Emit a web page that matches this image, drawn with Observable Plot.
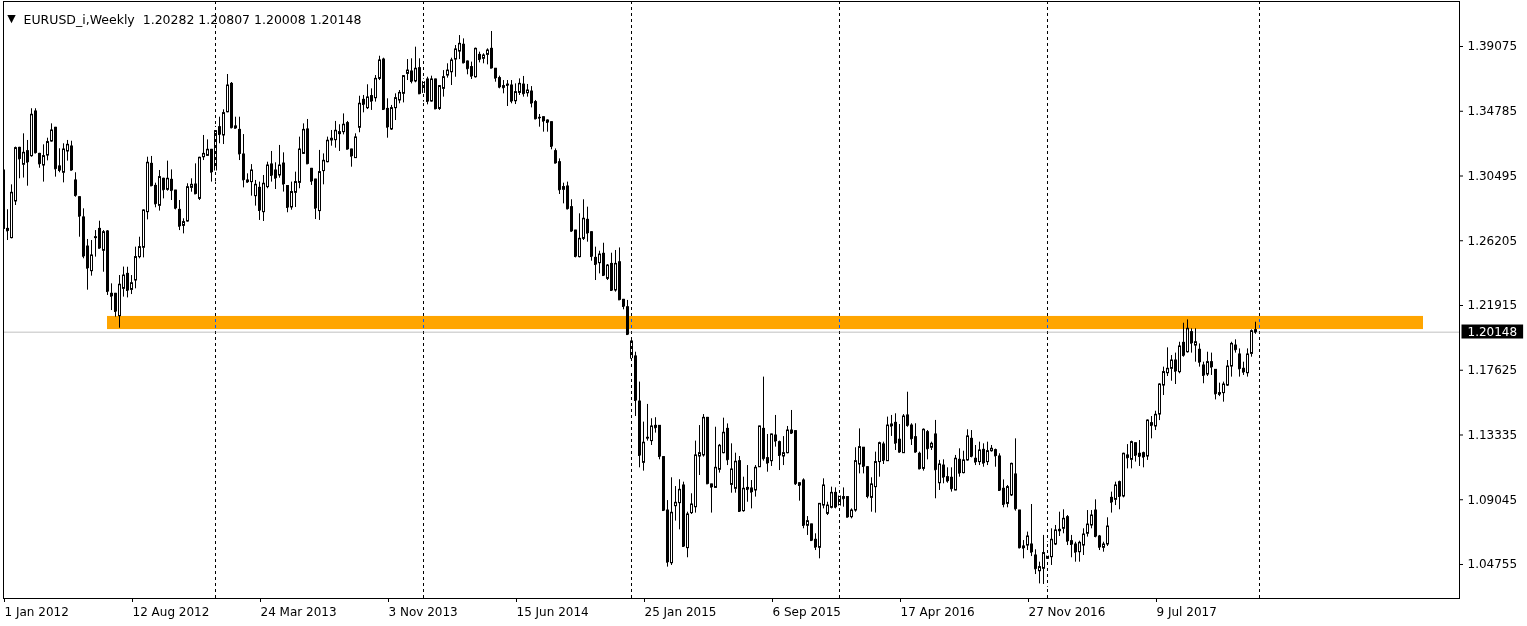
<!DOCTYPE html>
<html><head><meta charset="utf-8">
<script src="https://cdn.jsdelivr.net/npm/d3@7"></script>
<script src="https://cdn.jsdelivr.net/npm/@observablehq/plot@0.6"></script>
<style>
html,body{margin:0;padding:0;background:#fff;}
#chart svg{display:block;}
</style></head><body><div id="chart"></div>
<script>
const symbolName = "EURUSD_i,Weekly";
// weekly candles, week index 0 = week of 1 Jan 2012
const open = [
1.3086,1.2699,1.2638,1.2881,1.3236,1.3124,1.3214,1.3181,1.3477,1.3196,
1.3119,1.3185,1.3278,1.3369,1.3113,1.3071,1.3212,1.3245,1.3020,1.2909,
1.2775,1.2582,1.2419,1.2638,1.2699,1.2554,1.2682,1.2269,1.2269,1.2121,
1.2302,1.2401,1.2295,1.2357,1.2512,1.2574,1.2810,1.3130,1.2984,1.2852,
1.3031,1.2958,1.3024,1.2953,1.2825,1.2719,1.2748,1.2971,1.2993,1.2898,
1.3174,1.3183,1.3223,1.3086,1.3373,1.3318,1.3472,1.3660,1.3378,1.3355,
1.3192,1.3020,1.3009,1.2916,1.2971,1.2810,1.2976,1.3126,1.3086,1.3053,
1.3132,1.2983,1.2841,1.2938,1.3004,1.3196,1.3358,1.3097,1.3026,1.2817,
1.3082,1.3141,1.3285,1.3287,1.3327,1.3340,1.3400,1.3225,1.3168,1.3369,
1.3554,1.3499,1.3579,1.3565,1.3693,1.3821,1.3494,1.3358,1.3499,1.3550,
1.3594,1.3726,1.3742,1.3676,1.3764,1.3600,1.3689,1.3543,1.3689,1.3494,
1.3627,1.3715,1.3737,1.3821,1.3874,1.3919,1.3808,1.3771,1.3704,1.3852,
1.3826,1.3852,1.3892,1.3760,1.3698,1.3645,1.3655,1.3649,1.3545,1.3600,
1.3655,1.3598,1.3609,1.3539,1.3435,1.3439,1.3417,1.3406,1.3214,1.3141,
1.2958,1.2980,1.2843,1.2688,1.2512,1.2633,1.2759,1.2677,1.2507,1.2472,
1.2534,1.2368,1.2467,1.2291,1.2478,1.2229,1.2180,1.1953,1.1854,1.1555,
1.1149,1.1310,1.1293,1.1394,1.1394,1.1187,1.0833,1.0484,1.0862,1.0882,
1.0999,1.0584,1.0816,1.0855,1.1191,1.1198,1.1447,1.1006,1.0983,1.1103,
1.1213,1.1374,1.1003,1.0977,1.1160,1.0829,1.0983,1.0979,1.0966,1.1120,
1.1374,1.1180,1.1160,1.1330,1.1286,1.1191,1.1213,1.1363,1.1359,1.1014,
1.1032,1.0732,1.0741,1.0639,1.0586,1.0866,1.0811,1.0851,1.0950,1.0866,
1.0922,1.0922,1.0789,1.0833,1.1138,1.1249,1.1120,1.0917,1.0988,1.1154,
1.1271,1.1160,1.1403,1.1414,1.1302,1.1213,1.1463,1.1396,1.1319,1.1209,
1.1109,1.1352,1.1249,1.1337,1.1014,1.1131,1.1054,1.1050,1.0966,1.1169,
1.1081,1.1165,1.1308,1.1176,1.1154,1.1235,1.1154,1.1226,1.1233,1.1191,
1.0977,1.0877,1.0933,1.1072,1.0833,1.0595,1.0601,1.0608,1.0535,1.0431,
1.0447,1.0513,1.0524,1.0608,1.0696,1.0712,1.0789,1.0630,1.0608,1.0557,
1.0601,1.0679,1.0734,1.0833,1.0661,1.0586,1.0608,1.0917,1.0904,1.1021,
1.0926,1.1198,1.1169,1.1279,1.1209,1.1213,1.1191,1.1412,1.1390,1.1469,
1.1661,1.1743,1.1772,1.1827,1.1750,1.1944,1.1882,1.2015,1.1926,1.1898,
1.1794,1.1734,1.1816,1.1765,1.1611,1.1611,1.1661,1.1787,1.1926,1.1867,
1.1772,1.1743,1.1871,1.20282];
const high = [
1.3086,1.2826,1.2991,1.3241,1.3240,1.3329,1.3285,1.3495,1.3495,1.3200,
1.3256,1.3300,1.3395,1.3372,1.3230,1.3263,1.3285,1.3280,1.3071,1.2912,
1.2832,1.2629,1.2622,1.2688,1.2750,1.2688,1.2688,1.2335,1.2272,1.2390,
1.2446,1.2445,1.2390,1.2578,1.2644,1.2825,1.3174,1.3179,1.3002,1.3086,
1.3035,1.3148,1.3090,1.2955,1.2887,1.2766,1.2998,1.3031,1.3130,1.3174,
1.3318,1.3289,1.3226,1.3378,1.3439,1.3488,1.3722,1.3669,1.3439,1.3439,
1.3324,1.3064,1.3125,1.3020,1.3009,1.3053,1.3141,1.3212,1.3137,1.3252,
1.3203,1.2985,1.3009,1.3075,1.3307,1.3395,1.3424,1.3100,1.3028,1.3219,
1.3196,1.3307,1.3351,1.3411,1.3389,1.3461,1.3411,1.3228,1.3329,1.3578,
1.3583,1.3654,1.3627,1.3715,1.3843,1.3830,1.3561,1.3517,1.3594,1.3616,
1.3715,1.3821,1.3826,1.3903,1.3826,1.3693,1.3704,1.3711,1.3692,1.3649,
1.3748,1.3793,1.3830,1.3914,1.3980,1.3958,1.3812,1.3804,1.3897,1.3870,
1.3859,1.3892,1.4007,1.3762,1.3711,1.3682,1.3682,1.3682,1.3660,1.3693,
1.3709,1.3656,1.3642,1.3550,1.3457,1.3441,1.3422,1.3408,1.3229,1.3163,
1.3002,1.3009,1.2892,1.2690,1.2799,1.2892,1.2843,1.2680,1.2578,1.2551,
1.2604,1.2463,1.2538,1.2556,1.2573,1.2232,1.2225,1.1960,1.1882,1.1684,
1.1419,1.1536,1.1441,1.1448,1.1396,1.1190,1.0899,1.1050,1.0992,1.1037,
1.1021,1.0822,1.0944,1.1293,1.1396,1.1469,1.1450,1.1008,1.1385,1.1271,
1.1445,1.1407,1.1275,1.1213,1.1191,1.1054,1.1131,1.1032,1.1131,1.1392,
1.1717,1.1337,1.1339,1.1463,1.1293,1.1323,1.1390,1.1496,1.1361,1.1016,
1.1043,1.0793,1.0743,1.0679,1.0880,1.1043,1.0888,1.0988,1.0983,1.0988,
1.0983,1.0926,1.0844,1.1249,1.1374,1.1251,1.1124,1.1050,1.1220,1.1286,
1.1286,1.1452,1.1463,1.1474,1.1403,1.1469,1.1617,1.1408,1.1408,1.1220,
1.1374,1.1363,1.1286,1.1430,1.1165,1.1169,1.1116,1.1116,1.1198,1.1242,
1.1226,1.1368,1.1363,1.1264,1.1286,1.1275,1.1286,1.1264,1.1240,1.1209,
1.1036,1.0999,1.1147,1.1308,1.0835,1.0634,1.0690,1.0873,1.0573,1.0491,
1.0668,1.0623,1.0712,1.0734,1.0822,1.0838,1.0800,1.0668,1.0623,1.0630,
1.0712,1.0833,1.0833,1.0904,1.0668,1.0623,1.0785,1.0955,1.1021,1.1028,
1.1213,1.1270,1.1293,1.1281,1.1297,1.1220,1.1434,1.1456,1.1491,1.1673,
1.1783,1.1911,1.1860,1.1876,1.1948,1.2074,1.2096,1.2037,1.2037,1.1937,
1.1816,1.1882,1.1876,1.1767,1.1677,1.1684,1.1827,1.1948,1.1964,1.1904,
1.1816,1.1904,1.2030,1.20807];
const low = [
1.2660,1.2622,1.2633,1.2854,1.3031,1.3036,1.2982,1.3174,1.3196,1.3101,
1.3009,1.3150,1.3274,1.3042,1.3071,1.3004,1.3148,1.3084,1.2909,1.2644,
1.2501,1.2293,1.2386,1.2512,1.2567,1.2412,1.2258,1.2158,1.2114,1.2041,
1.2247,1.2242,1.2264,1.2302,1.2501,1.2507,1.2759,1.2980,1.2839,1.2817,
1.2898,1.2949,1.2887,1.2825,1.2688,1.2666,1.2744,1.2942,1.2927,1.2887,
1.3152,1.3179,1.3009,1.3009,1.3263,1.3258,1.3468,1.3362,1.3362,1.3152,
1.2971,1.3002,1.2916,1.2850,1.2755,1.2748,1.2965,1.3009,1.2960,1.3035,
1.2943,1.2806,1.2823,1.2841,1.2965,1.3194,1.3128,1.2987,1.2761,1.2755,
1.2991,1.3137,1.3247,1.3234,1.3212,1.3322,1.3225,1.3108,1.3166,1.3336,
1.3468,1.3490,1.3484,1.3539,1.3682,1.3484,1.3300,1.3351,1.3417,1.3528,
1.3534,1.3682,1.3660,1.3667,1.3590,1.3539,1.3521,1.3539,1.3490,1.3484,
1.3572,1.3698,1.3649,1.3704,1.3821,1.3793,1.3720,1.3689,1.3698,1.3799,
1.3793,1.3786,1.3762,1.3671,1.3627,1.3594,1.3510,1.3528,1.3523,1.3583,
1.3572,1.3572,1.3501,1.3422,1.3373,1.3340,1.3340,1.3223,1.3130,1.2927,
1.2865,1.2825,1.2677,1.2507,1.2507,1.2622,1.2611,1.2485,1.2357,1.2401,
1.2384,1.2357,1.2287,1.2280,1.2225,1.2163,1.1995,1.1761,1.1456,1.1116,
1.1094,1.1293,1.1264,1.1346,1.1169,1.0830,1.0458,1.0469,1.0763,1.0705,
1.0590,1.0520,1.0807,1.0816,1.1065,1.1187,1.1008,1.0816,1.0980,1.1081,
1.1209,1.1131,1.0948,1.0948,1.0825,1.0822,1.0888,1.0844,1.0922,1.1118,
1.1160,1.1087,1.1125,1.1253,1.1098,1.1131,1.1209,1.1337,1.0999,1.0895,
1.0712,1.0668,1.0630,1.0568,1.0513,1.0844,1.0800,1.0844,1.0844,1.0683,
1.0855,1.0785,1.0778,1.0822,1.1076,1.1076,1.0911,1.0822,1.0816,1.1054,
1.1138,1.1158,1.1324,1.1231,1.1213,1.1211,1.1385,1.1264,1.1213,1.1103,
1.1094,1.1169,1.1231,1.0911,1.0966,1.1010,1.1014,1.0955,1.0964,1.1054,
1.1076,1.1160,1.1182,1.1131,1.1131,1.1120,1.1131,1.1220,1.1120,1.0964,
1.0851,1.0851,1.0926,1.0829,1.0579,1.0513,1.0568,1.0528,1.0409,1.0347,
1.0343,1.0325,1.0469,1.0601,1.0661,1.0679,1.0601,1.0520,1.0491,1.0491,
1.0535,1.0657,1.0712,1.0652,1.0568,1.0557,1.0595,1.0816,1.0866,1.0838,
1.0917,1.1109,1.1109,1.1154,1.1125,1.1116,1.1165,1.1308,1.1363,1.1429,
1.1595,1.1721,1.1690,1.1668,1.1739,1.1849,1.1876,1.1876,1.1816,1.1783,
1.1673,1.1721,1.1728,1.1566,1.1588,1.1551,1.1655,1.1717,1.1876,1.1717,
1.1728,1.1717,1.1849,1.20008];
const close = [
1.2699,1.2686,1.2938,1.3234,1.3163,1.3203,1.3141,1.3455,1.3203,1.3130,
1.3181,1.3274,1.3351,1.3097,1.3086,1.3225,1.3256,1.3088,1.2920,1.2783,
1.2518,1.2439,1.2523,1.2644,1.2571,1.2677,1.2284,1.2253,1.2152,1.2329,
1.2390,1.2291,1.2339,1.2512,1.2578,1.2821,1.3137,1.2984,1.2865,1.3042,
1.2958,1.3031,1.2953,1.2836,1.2717,1.2744,1.2975,1.2991,1.2931,1.3170,
1.3196,1.3223,1.3075,1.3347,1.3324,1.3466,1.3649,1.3369,1.3366,1.3196,
1.3024,1.3009,1.3086,1.2991,1.2821,1.2998,1.3119,1.3053,1.3035,1.3119,
1.2996,1.2841,1.2943,1.3009,1.3225,1.3355,1.3130,1.3015,1.2836,1.3075,
1.3150,1.3283,1.3296,1.3349,1.3340,1.3389,1.3227,1.3181,1.3305,1.3528,
1.3523,1.3570,1.3545,1.3693,1.3815,1.3490,1.3373,1.3499,1.3565,1.3600,
1.3711,1.3748,1.3676,1.3760,1.3594,1.3671,1.3543,1.3689,1.3494,1.3645,
1.3704,1.3748,1.3815,1.3888,1.3925,1.3799,1.3760,1.3711,1.3892,1.3821,
1.3848,1.3881,1.3764,1.3698,1.3638,1.3634,1.3649,1.3545,1.3605,1.3660,
1.3594,1.3616,1.3532,1.3428,1.3433,1.3413,1.3404,1.3245,1.3135,1.2958,
1.2976,1.2832,1.2684,1.2516,1.2633,1.2766,1.2671,1.2516,1.2463,1.2529,
1.2390,1.2456,1.2291,1.2467,1.2229,1.2185,1.1999,1.1843,1.1562,1.1198,
1.1282,1.1315,1.1390,1.1381,1.1191,1.0833,1.0491,1.0818,1.0884,1.0970,
1.0595,1.0807,1.0873,1.1198,1.1213,1.1447,1.1010,1.0988,1.1116,1.1262,
1.1348,1.1169,1.1105,1.1156,1.0827,1.0977,1.0972,1.0955,1.1116,1.1390,
1.1176,1.1147,1.1337,1.1293,1.1198,1.1213,1.1363,1.1345,1.1010,1.0999,
1.0734,1.0762,1.0634,1.0590,1.0877,1.0999,1.0866,1.0950,1.0855,1.0926,
1.0911,1.0789,1.0833,1.1160,1.1253,1.1125,1.0926,1.1006,1.1154,1.1279,
1.1165,1.1396,1.1392,1.1279,1.1220,1.1456,1.1396,1.1308,1.1220,1.1109,
1.1368,1.1242,1.1275,1.1103,1.1138,1.1054,1.1028,1.0977,1.1176,1.1081,
1.1165,1.1324,1.1191,1.1154,1.1231,1.1147,1.1226,1.1242,1.1195,1.0966,
1.0873,1.0988,1.1142,1.0844,1.0586,1.0584,1.0661,1.0557,1.0447,1.0458,
1.0551,1.0528,1.0639,1.0701,1.0705,1.0778,1.0630,1.0608,1.0557,1.0619,
1.0674,1.0740,1.0800,1.0661,1.0590,1.0608,1.0727,1.0888,1.0999,1.0926,
1.1209,1.1182,1.1286,1.1198,1.1191,1.1187,1.1429,1.1396,1.1467,1.1668,
1.1750,1.1772,1.1827,1.1756,1.1920,1.1860,1.2037,1.1942,1.1948,1.1816,
1.1728,1.1816,1.1783,1.1606,1.1602,1.1668,1.1787,1.1937,1.1898,1.1772,
1.1750,1.1867,1.2021,1.20148];

const priceTicks = [1.04755,1.09045,1.13335,1.17625,1.21915,1.26205,1.30495,1.34785,1.39075];
const dateLabels = ["1 Jan 2012","12 Aug 2012","24 Mar 2013","3 Nov 2013","15 Jun 2014","25 Jan 2015","6 Sep 2015","17 Apr 2016","27 Nov 2016","9 Jul 2017"];
const dateLabelWeeks = [0,32,64,96,128,160,192,224,256,288];
const yearStartWeeks = [53,105,157,209,261,314];
const zone = {from: 26, to: 355, lo: 1.2032, hi: 1.2119};

const candles = close.map((c, i) => ({i, o: open[i], h: high[i], l: low[i], c}));
const last = candles[candles.length - 1];
const headerText = symbolName + "\u00a0\u00a0" + [last.o, last.h, last.l, last.c].map(v => v.toFixed(5)).join(" ");
const font = "DejaVu Sans";

const chart = Plot.plot({
  width: 1527, height: 626,
  marginLeft: 3, marginRight: 68, marginTop: 1, marginBottom: 28,
  style: {fontFamily: font, fontSize: "12px", background: "#fff", color: "#000", overflow: "visible"},
  x: {type: "linear", domain: [0, 364], axis: null},
  y: {type: "linear", domain: [1.02502, 1.42057], axis: null},
  marks: [
    Plot.rect([zone], {x1: "from", x2: "to", y1: "lo", y2: "hi", fill: "#FFA500"}),
    Plot.ruleY([last.c], {stroke: "#c0c0c0"}),
    Plot.ruleX(candles, {x: "i", y1: "l", y2: "h", stroke: "#000", clip: true}),
    Plot.rect(candles, {x1: d => d.i - 0.25, x2: d => d.i + 0.25, y1: "o", y2: "c", dx: 0.5,
      fill: d => d.c >= d.o ? "#fff" : "#000", stroke: "#000", strokeWidth: 1, clip: true}),
    Plot.ruleY(candles, {x1: d => d.i - 0.25, x2: d => d.i + 0.25, y: "c", stroke: "#000", clip: true}),
    Plot.ruleX(yearStartWeeks, {stroke: "#fff", strokeDasharray: "3,3", mixBlendMode: "difference"}),
    Plot.frame({stroke: "#000"}),
    Plot.axisY(priceTicks, {anchor: "right", tickSize: 3, tickPadding: 5,
      tickFormat: d => d.toFixed(5), fontSize: 12, fill: "#000", stroke: "#000"}),
    Plot.axisX(dateLabelWeeks, {anchor: "bottom", tickSize: 4, tickPadding: 5, textAnchor: "start",
      tickFormat: d => dateLabels[dateLabelWeeks.indexOf(d)], fontSize: 12, dx: 1, fill: "#000", stroke: "#000"}),
    Plot.text(["\u25BC"], {frameAnchor: "top-left", dx: 8, dy: 13, textAnchor: "middle", fontSize: 11, fill: "#000"}),
    Plot.text([headerText], {frameAnchor: "top-left", dx: 20, dy: 14, textAnchor: "start", fontSize: 12.5, fill: "#000"}),
    Plot.text([last], {y: "c", frameAnchor: "right", dx: 8, textAnchor: "start",
      text: d => d.c.toFixed(5), fill: "#fff", fontSize: 12, className: "price-label"})
  ]
});
document.getElementById("chart").append(chart);

// black background box behind the current-price label
const g = d3.select(chart).select("g.price-label");
const t = g.select("text");
if (!t.empty()) {
  const bb = t.node().getBBox();
  g.insert("rect", "text")
    .attr("transform", t.attr("transform"))
    .attr("x", bb.x - 6).attr("y", bb.y + bb.height / 2 - 7.5)
    .attr("width", bb.width + 12).attr("height", 14)
    .attr("fill", "#000");
}
</script></body></html>
